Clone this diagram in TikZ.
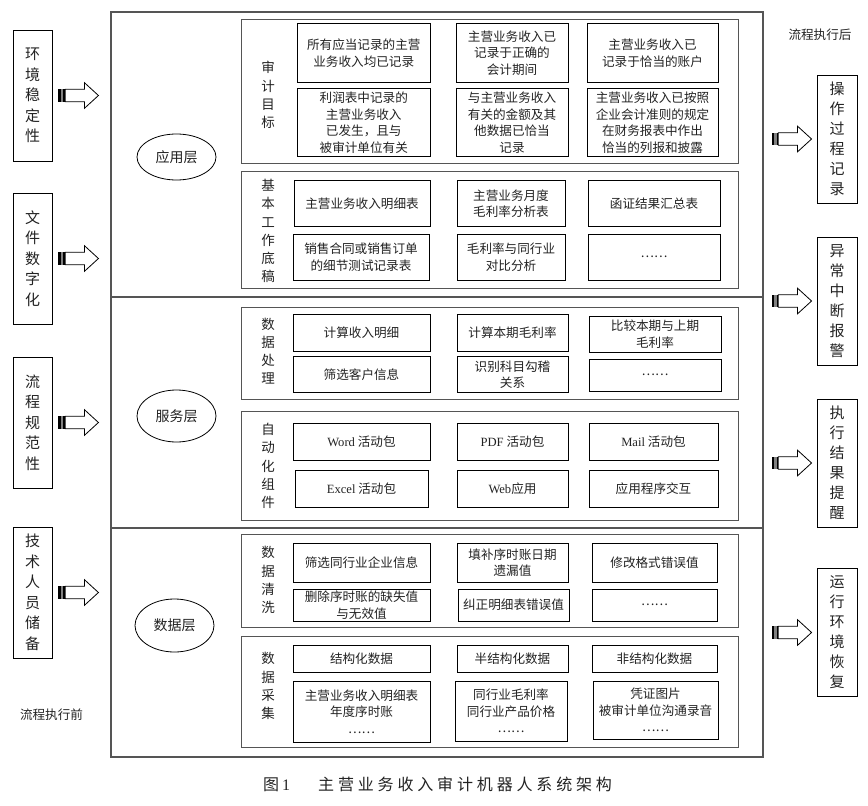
\documentclass[tikz,border=0pt]{standalone}
\usepackage{fontspec}
\setmainfont{Noto Sans CJK SC}
\newfontfamily\lat{Liberation Serif}
\newfontfamily\capfont[LetterSpace=24]{Noto Sans CJK SC}
\usetikzlibrary{shapes.geometric}
\definecolor{ink}{HTML}{222222}
\definecolor{framegray}{HTML}{555555}
\tikzset{
  tbox/.style={draw=black, line width=0.8pt, inner sep=0pt, align=center, text=ink,
    font=\fontsize{12.6}{16.5}\selectfont},
  panel/.style={draw=framegray, line width=0.9pt, inner sep=0pt},
  frame/.style={draw=framegray, line width=1.2pt},
  vlab/.style={inner sep=0pt, align=center, text=ink, font=\fontsize{13.5}{18.2}\selectfont},
  sidebox/.style={draw=black, line width=0.9pt, inner sep=0pt, align=center, text=ink,
    minimum width=39pt, font=\fontsize{15}{20.5}\selectfont},
  layer/.style={ellipse, draw=black, line width=0.8pt, inner sep=0pt, text=ink,
    font=\fontsize{14}{14}\selectfont},
  note/.style={inner sep=0pt, text=ink, font=\fontsize{12.6}{12.6}\selectfont},
  fatarr/.pic={
    \fill[black] (0,-6.2) rectangle (2.7,6.2);
    \fill[gray] (2.7,-6.2) rectangle (5,6.2);
    \fill[black] (5,-6.2) rectangle (6.7,6.2);
    \draw[line width=0.8pt, fill=white] (6.7,-6.2) -- (26,-6.2) -- (26,-12.8) -- (40,0)
      -- (26,12.8) -- (26,6.2) -- (6.7,6.2) -- cycle;
  }
}
\newcommand\tb[7][tbox]{\node[#1, minimum width={#5pt-#3pt}, minimum height={#6pt-#4pt}] (#2) at ({(#3+#5)/2},{(#4+#6)/2}) {#7};}
\begin{document}
\begin{tikzpicture}[x=1pt,y=-1pt]
\useasboundingbox (0,0) rectangle (868,806);
% main frame
\draw[frame] (111,12) rectangle (763,757);
\draw[frame] (111,297) -- (763,297);
\draw[frame] (111,528) -- (763,528);
% panels
\tb[panel]{P1}{241.5}{19.5}{738}{163}{}
\tb[panel]{P2}{241.5}{171.5}{738}{288}{}
\tb[panel]{P3}{241.5}{307.5}{738}{399.5}{}
\tb[panel]{P4}{241.5}{411.5}{738}{520}{}
\tb[panel]{P5}{241.5}{534.5}{738}{627.5}{}
\tb[panel]{P6}{241.5}{636.5}{738}{747.5}{}
% panel labels
\node[vlab] (T1) at (268,95) {审\\计\\目\\标};
\node[vlab] (T2) at (268,231) {基\\本\\工\\作\\底\\稿};
\node[vlab] (T3) at (268,351) {数\\据\\处\\理};
\node[vlab] (T4) at (268,466) {自\\动\\化\\组\\件};
\node[vlab] (T5) at (268,580) {数\\据\\清\\洗};
\node[vlab] (T6) at (268,686) {数\\据\\采\\集};
% P1
\tb{a11}{297.5}{23.5}{430}{82.5}{所有应当记录的主营\\业务收入均已记录}
\tb{a12}{456}{23.5}{568}{82.5}{主营业务收入已\\记录于正确的\\会计期间}
\tb{a13}{587}{23.5}{718}{82.5}{主营业务收入已\\记录于恰当的账户}
\tb{a21}{297.5}{88.5}{430}{156.5}{利润表中记录的\\主营业务收入\\已发生，且与\\被审计单位有关}
\tb{a22}{456}{88.5}{568}{156.5}{与主营业务收入\\有关的金额及其\\他数据已恰当\\记录}
\tb{a23}{587}{88.5}{718}{156.5}{主营业务收入已按照\\企业会计准则的规定\\在财务报表中作出\\恰当的列报和披露}
% P2
\tb{b11}{294}{180.5}{430}{226.5}{主营业务收入明细表}
\tb{b12}{457}{180.5}{565}{226.5}{主营业务月度\\毛利率分析表}
\tb{b13}{588}{180.5}{720}{226.5}{函证结果汇总表}
\tb{b21}{293}{234}{429}{280.5}{销售合同或销售订单\\的细节测试记录表}
\tb{b22}{457}{234}{565}{280.5}{毛利率与同行业\\对比分析}
\tb{b23}{588}{234}{720}{280.5}{……}
% P3
\tb{c11}{293}{314}{430}{351}{计算收入明细}
\tb{c12}{457}{314}{568}{351}{计算本期毛利率}
\tb{c13}{589}{316}{721}{352}{比较本期与上期\\毛利率}
\tb{c21}{293}{356.5}{430}{392.5}{筛选客户信息}
\tb{c22}{457}{356.5}{568}{392.5}{识别科目勾稽\\关系}
\tb{c23}{589}{359}{721}{391}{……}
% P4
\tb{d11}{293}{423}{430}{460}{{\lat Word} 活动包}
\tb{d12}{457}{423}{568}{460}{{\lat PDF} 活动包}
\tb{d13}{589}{423}{718}{460}{{\lat Mail} 活动包}
\tb{d21}{295}{470}{428}{507}{{\lat Excel} 活动包}
\tb{d22}{457}{470}{568}{507}{{\lat Web}应用}
\tb{d23}{589}{470}{718}{507}{应用程序交互}
% P5
\tb{e11}{293}{543}{430}{582}{筛选同行业企业信息}
\tb{e12}{457}{543}{568}{582}{填补序时账日期\\遗漏值}
\tb{e13}{592}{543}{717}{582}{修改格式错误值}
\tb{e21}{293}{589}{430}{621}{删除序时账的缺失值\\与无效值}
\tb{e22}{458}{589}{569}{621}{纠正明细表错误值}
\tb{e23}{592}{589}{717}{621}{……}
% P6
\tb{f11}{293}{645}{430}{672}{结构化数据}
\tb{f12}{457}{645}{568}{672}{半结构化数据}
\tb{f13}{592}{645}{717}{672}{非结构化数据}
\tb{f21}{293}{681}{430}{742}{主营业务收入明细表\\年度序时账\\……}
\tb{f22}{455}{681}{567}{741}{同行业毛利率\\同行业产品价格\\……}
\tb{f23}{593}{681}{718}{739}{凭证图片\\被审计单位沟通录音\\……}
% layers
\node[layer, minimum width=79pt, minimum height=46pt] (E1) at (176.5,157) {应用层};
\node[layer, minimum width=79pt, minimum height=52pt] (E2) at (176.5,416) {服务层};
\node[layer, minimum width=79pt, minimum height=53pt] (E3) at (174.5,625.5) {数据层};
% left side
\node[sidebox, minimum height=131pt] (L1) at (32.5,95.5) {环\\境\\稳\\定\\性};
\node[sidebox, minimum height=131pt] (L2) at (32.5,258.5) {文\\件\\数\\字\\化};
\node[sidebox, minimum height=131pt] (L3) at (32.5,422.5) {流\\程\\规\\范\\性};
\node[sidebox, minimum height=131pt] (L4) at (32.5,592.5) {技\\术\\人\\员\\储\\备};
\foreach \n in {1,2,3,4} \pic at ([xshift=6pt]L\n.east) {fatarr};
\node[note] (pre) at (51.5,715) {流程执行前};
% right side
\node[sidebox, minimum width=40pt, minimum height=128pt, font=\fontsize{15}{20}\selectfont] (R1) at (837,139) {操\\作\\过\\程\\记\\录};
\node[sidebox, minimum width=40pt, minimum height=128pt, font=\fontsize{15}{20}\selectfont] (R2) at (837,301) {异\\常\\中\\断\\报\\警};
\node[sidebox, minimum width=40pt, minimum height=128pt, font=\fontsize{15}{20}\selectfont] (R3) at (837,463) {执\\行\\结\\果\\提\\醒};
\node[sidebox, minimum width=40pt, minimum height=128pt, font=\fontsize{15}{20}\selectfont] (R4) at (837,632.5) {运\\行\\环\\境\\恢\\复};
\foreach \n in {1,2,3,4} \pic at ([xshift=-45pt]R\n.west) {fatarr};
\node[note] (post) at (820,35) {流程执行后};
% caption
\node[anchor=base west, inner sep=0pt, text=ink, font=\capfont\fontsize{16}{16}\selectfont] (cap1) at (263,790) {图\kern3pt{\lat 1}};
\node[anchor=base west, inner sep=0pt, text=ink, font=\capfont\fontsize{16}{16}\selectfont] (cap2) at (318,790) {主营业务收入审计机器人系统架构};
\end{tikzpicture}
\end{document}
